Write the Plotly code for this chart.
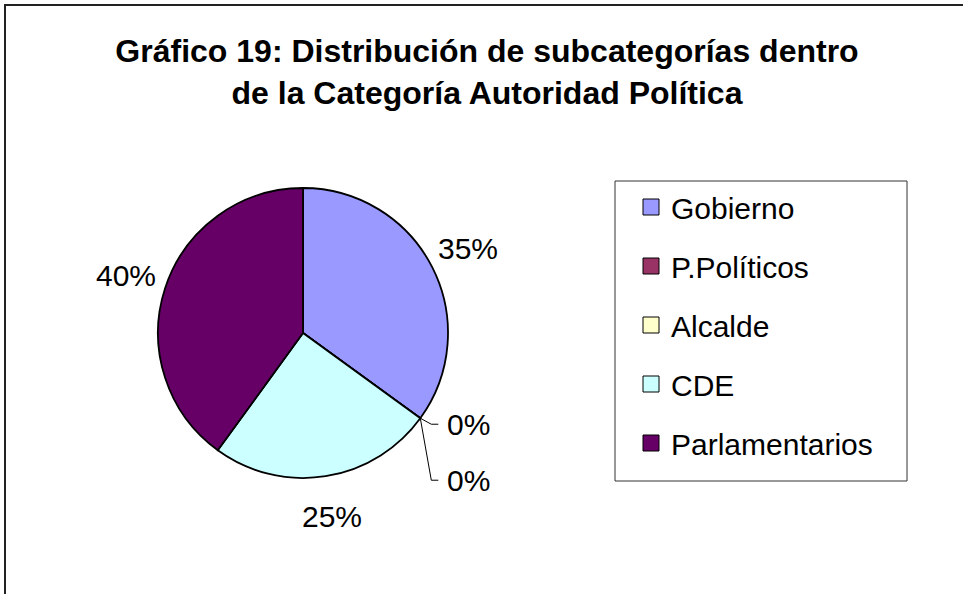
import math
import plotly.graph_objects as go

# ---- data ----
categories = ["Gobierno", "P.Políticos", "Alcalde", "CDE", "Parlamentarios"]
values = [35, 0, 0, 25, 40]
colors = ["#9999FF", "#993366", "#FFFFCC", "#CCFFFF", "#660066"]
title_lines = ["Gráfico 19: Distribución de subcategorías dentro",
               "de la Categoría Autoridad Política"]

# ---- layout geometry (pixels) ----
W, H = 963, 594
cx, cy, R = 303, 333, 145
FONT = "Liberation Sans, Arial, sans-serif"


def px2paper(x, y):
    return x / W, 1 - y / H


fig = go.Figure()
fig.add_trace(go.Pie(
    labels=categories, values=values, sort=False, direction="clockwise",
    rotation=0, marker=dict(colors=colors, line=dict(color="black", width=1.8)),
    textinfo="none", hoverinfo="label+percent", showlegend=False,
    domain=dict(x=[(cx - R) / W, (cx + R) / W],
                y=[1 - (cy + R) / H, 1 - (cy - R) / H]),
))

# legend entries (one per category, same colours)
for i, (c, col) in enumerate(zip(categories, colors)):
    fig.add_trace(go.Scatter(
        x=[None], y=[None], mode="markers", name=c, legendgroup=f"g{i}",
        marker=dict(symbol="square", size=16, color=col,
                    line=dict(color="black", width=1)),
        showlegend=True,
    ))

# ---- percentage labels computed from the values ----
total = sum(values)
annotations = []
shapes = []
cum = 0.0
zero_idx = 0
for v in values:
    pct = f"{round(100 * v / total)}%"
    if v > 0:
        a = math.radians((cum + v / 2) / total * 360)
        k = 1.28
        x = cx + k * R * math.sin(a)
        y = cy - k * R * math.cos(a)
        px, py = px2paper(x, y)
        annotations.append(dict(x=px, y=py, xref="paper", yref="paper",
                                text=pct, showarrow=False,
                                xanchor="center", yanchor="middle",
                                font=dict(family=FONT, size=30, color="black")))
    else:
        a = math.radians(cum / total * 360)
        bx = cx + R * math.sin(a)
        by = cy - R * math.cos(a)
        ly = by + 6 + zero_idx * 56
        p0 = px2paper(bx, by)
        p1 = px2paper(bx + 11, ly)
        p2 = px2paper(bx + 18, ly)
        shapes.append(dict(type="path", xref="paper", yref="paper",
                           path=f"M {p0[0]} {p0[1]} L {p1[0]} {p1[1]} L {p2[0]} {p2[1]}",
                           line=dict(color="black", width=1)))
        lx, lyp = px2paper(bx + 25, ly)
        annotations.append(dict(x=lx, y=lyp, xref="paper", yref="paper",
                                text=pct, showarrow=False,
                                xanchor="left", yanchor="middle",
                                font=dict(family=FONT, size=30, color="black")))
        zero_idx += 1
    cum += v

# outer frame of the chart area
shapes.append(dict(type="rect", xref="paper", yref="paper",
                   x0=5 / W, x1=1.2, y0=-0.2, y1=1 - 5 / H,
                   line=dict(color="#222222", width=2), fillcolor="rgba(0,0,0,0)"))
# legend box
lb0 = px2paper(615, 181)
lb1 = px2paper(907, 481)
shapes.append(dict(type="rect", xref="paper", yref="paper", layer="below",
                   x0=lb0[0], x1=lb1[0], y0=lb1[1], y1=lb0[1],
                   line=dict(color="#333333", width=1), fillcolor="white"))

fig.update_layout(
    width=W, height=H,
    margin=dict(l=0, r=0, t=0, b=0),
    paper_bgcolor="white", plot_bgcolor="rgba(0,0,0,0)",
    title=dict(text="<br>".join(f"<b>{t}</b>" for t in title_lines),
               x=487 / W, xanchor="center",
               y=1 - 62 / H, yanchor="middle", yref="container",
               font=dict(family=FONT, size=32, color="black")),
    xaxis=dict(visible=False), yaxis=dict(visible=False),
    showlegend=True,
    legend=dict(x=615 / W, y=1 - 181 / H, xanchor="left", yanchor="top",
                borderwidth=0, bgcolor="rgba(0,0,0,0)",
                font=dict(family=FONT, size=30, color="black"),
                tracegroupgap=17, indentation=16, traceorder="grouped"),
    annotations=annotations, shapes=shapes,
)

fig.write_html("out.html", post_script="document.body.style.margin='0';",
               config={"displayModeBar": False})
